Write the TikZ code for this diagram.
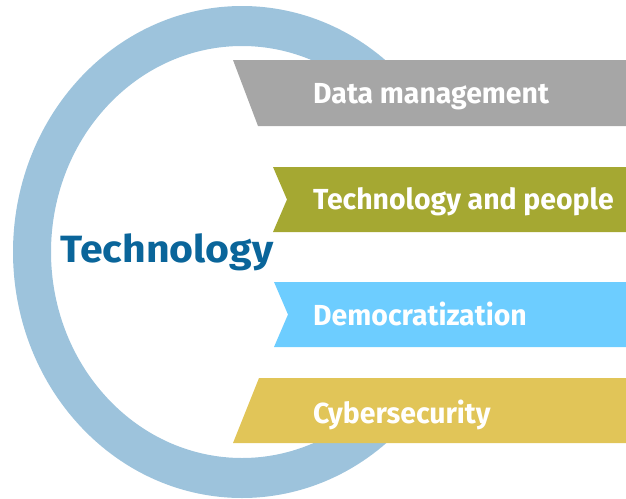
\documentclass[tikz,border=0pt]{standalone}
\usepackage{fontspec}
\setsansfont{Fira Sans}
\newfontfamily\bannerfont[FakeStretch=0.98]{Fira Sans}
\newfontfamily\techfont[FakeStretch=1.08]{Fira Sans}
\usetikzlibrary{calc}
\definecolor{ringblue}{HTML}{9DC3DC}
\definecolor{techblue}{HTML}{0A659A}
\definecolor{bannergrey}{HTML}{A6A6A6}
\definecolor{bannerolive}{HTML}{A5A832}
\definecolor{bannersky}{HTML}{6DCDFF}
\definecolor{bannergold}{HTML}{E1C558}

\begin{document}
\begin{tikzpicture}[x=1pt,y=-1pt,
    bannertext/.style={anchor=base west,inner sep=0pt,text=white,font=\bannerfont\bfseries\fontsize{29}{29}\selectfont}]
    \useasboundingbox (0,0) rectangle (626,498);
    \coordinate (ctr) at (242,252);
    % ring, open on the right behind the banners
    \fill[ringblue] ($(ctr)+(-45:229 and 246)$)
      arc[start angle=-45,end angle=-315,x radius=229,y radius=246]
      -- ($(ctr)+(45:191 and 206)$)
      arc[start angle=-315,end angle=-45,x radius=191,y radius=206] -- cycle;
    \node[anchor=base west,inner sep=0pt,text=techblue,font=\techfont\bfseries\fontsize{38}{38}\selectfont] (tech) at (60,262) {Technology};
    % banners
    \fill[bannergrey] (233,60) -- (626,60) -- (626,126) -- (258,126) -- cycle;
    \node[bannertext] (data) at (313,103) {Data management};
    \fill[bannerolive] (273,167) -- (626,167) -- (626,232) -- (273,232) -- (287,199.5) -- cycle;
    \node[bannertext] (people) at (313,209) {Technology and people};
    \fill[bannersky] (274,282) -- (626,282) -- (626,347) -- (274,347) -- (288,314.5) -- cycle;
    \node[bannertext] (demo) at (313,325) {Democratization};
    \fill[bannergold] (259,378) -- (626,378) -- (626,443) -- (233,443) -- cycle;
    \node[bannertext] (cyber) at (313,423) {Cybersecurity};
\end{tikzpicture}
\end{document}
